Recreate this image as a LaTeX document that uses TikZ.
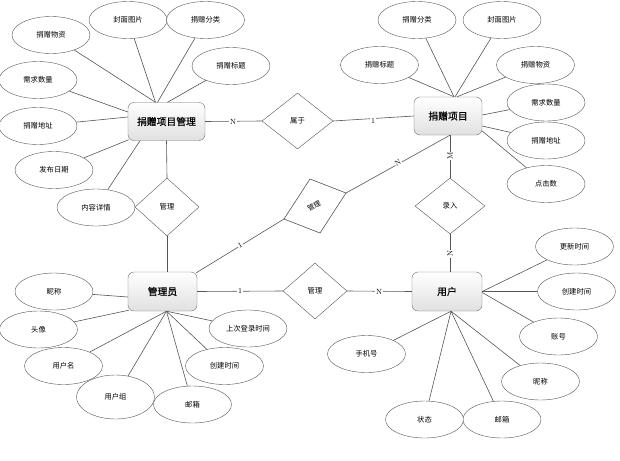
\documentclass[tikz,border=0pt]{standalone}
\usepackage{fontspec}
\newfontfamily\cjk{Noto Sans CJK SC}
\newfontfamily\cjkb[FakeBold=0.8]{Noto Sans CJK SC}
\usetikzlibrary{shapes.geometric}
\definecolor{ln}{RGB}{85,85,85}
\definecolor{bd}{RGB}{110,110,110}
\tikzset{
  attr/.style={ellipse, draw=ln, fill=white, minimum width=78pt, minimum height=37pt, inner sep=0pt, font=\cjk\fontsize{7.3}{8}\selectfont},
  ent/.style={draw=bd, rounded corners=6pt, top color=white, bottom color=black!12, minimum height=38pt, inner sep=0pt, font=\cjkb\fontsize{9.8}{11}\selectfont},
  rel/.style={diamond, draw=ln, fill=white, aspect=1, inner sep=0pt, font=\cjk\fontsize{7.3}{8}\selectfont},
  card/.style={fill=white, inner sep=0.6pt, font=\fontsize{7.5}{8}\selectfont},
  conn/.style={draw=ln, line width=0.6pt}
}
\begin{document}
\begin{tikzpicture}[x=1pt,y=-1pt]
\useasboundingbox (0,0) rectangle (620,460);
% entities
\node[ent, minimum width=77pt] (pm) at (166.5,121.5) {捐赠项目管理};
\node[ent, minimum width=68pt] (p) at (448,116) {捐赠项目};
\node[ent, minimum width=69pt, minimum height=39pt] (a) at (162.5,291.5) {管理员};
\node[ent, minimum width=70pt, minimum height=39pt] (u) at (447,291.5) {用户};
% relations
\node[rel, minimum width=64pt, minimum height=58pt] (d1) at (167,207) {管理};
\node[rel, minimum width=71pt, minimum height=56pt] (d2) at (297.5,121) {属于};
\node[rel, minimum width=70pt, minimum height=56pt] (d3) at (450,206) {录入};
\node[rel, minimum width=64pt, minimum height=56pt] (d4) at (315,291) {管理};
\coordinate (d5t) at (310,179);
\coordinate (d5r) at (346,193);
\coordinate (d5b) at (320,233);
\coordinate (d5l) at (284,219);
\draw[conn, fill=white] (d5t) -- (d5r) -- (d5b) -- (d5l) -- cycle;
\node[rotate=30, inner sep=0pt, font=\cjk\fontsize{7}{8}\selectfont] (d5) at (314,206) {管理};
% attributes of 捐赠项目管理
\node[attr] (pm1) at (51,35) {捐赠物资};
\node[attr] (pm2) at (128,20) {封面图片};
\node[attr] (pm3) at (205.5,20) {捐赠分类};
\node[attr] (pm4) at (231,66) {捐赠标题};
\node[attr] (pm5) at (38,80) {需求数量};
\node[attr] (pm6) at (38,126) {捐赠地址};
\node[attr] (pm7) at (54,170) {发布日期};
\node[attr] (pm8) at (96,207.5) {内容详情};
% attributes of 捐赠项目
\node[attr] (p1) at (417,20) {捐赠分类};
\node[attr] (p2) at (502,20) {封面图片};
\node[attr] (p3) at (379.5,65) {捐赠标题};
\node[attr] (p4) at (535.5,65) {捐赠物资};
\node[attr] (p5) at (546,102.5) {需求数量};
\node[attr] (p6) at (546,140.5) {捐赠地址};
\node[attr] (p7) at (546,184) {点击数};
% attributes of 管理员
\node[attr] (a1) at (54,291.5) {昵称};
\node[attr] (a2) at (38.5,329.5) {头像};
\node[attr] (a3) at (63.5,366) {用户名};
\node[attr, minimum height=44pt] (a4) at (115.5,397) {用户组};
\node[attr] (a5) at (192.5,404.5) {邮箱};
\node[attr] (a6) at (224.5,366) {创建时间};
\node[attr] (a7) at (248,328.5) {上次登录时间};
% attributes of 用户
\node[attr] (u1) at (574.5,246.5) {更新时间};
\node[attr] (u2) at (576.5,291.5) {创建时间};
\node[attr] (u3) at (558.5,336.5) {账号};
\node[attr] (u4) at (540.5,381.5) {昵称};
\node[attr] (u5) at (366.5,354) {手机号};
\node[attr] (u6) at (424.5,419.5) {状态};
\node[attr] (u7) at (502,419.5) {邮箱};
% connectors: 捐赠项目管理
\draw[conn] (pm1) -- ([xshift=-11pt]pm.north);
\draw[conn] (pm2) -- ([xshift=-11pt]pm.north);
\draw[conn] (pm3) -- ([xshift=-9pt]pm.north);
\draw[conn] (pm4) -- ([xshift=1pt]pm.north);
\draw[conn] (pm5) -- ([yshift=9.5pt]pm.west);
\draw[conn] (pm6) -- ([yshift=4.5pt]pm.west);
\draw[conn] (pm7) -- ([xshift=1pt,yshift=1pt]pm.south west);
\draw[conn] (pm8) -- ([xshift=-26.5pt]pm.south);
\draw[conn] (pm.south) -- (d1.north);
\draw[conn] (pm.east) -- (d2.west);
\draw[conn] (d2.east) -- (p.west);
% connectors: 捐赠项目
\draw[conn] (p1) -- ([xshift=6pt]p.north);
\draw[conn] (p2) -- ([xshift=7pt]p.north);
\draw[conn] (p3) -- ([xshift=6pt]p.north);
\draw[conn] (p4) -- ([xshift=9pt]p.north);
\draw[conn] (p5) -- ([yshift=1pt]p.east);
\draw[conn] (p6) -- ([yshift=-10pt]p.east);
\draw[conn] (p7) -- ([yshift=-15pt]p.east);
\draw[conn] ([xshift=2pt]p.south) -- (d3.north);
\draw[conn] (d5r) -- ([xshift=2pt]p.south);
% connectors: 管理员
\draw[conn] (a1) -- ([yshift=-5.5pt]a.west);
\draw[conn] (a2) -- ([xshift=1pt,yshift=1pt]a.south west);
\draw[conn] (a3) -- ([xshift=4pt]a.south);
\draw[conn] (a4) -- ([xshift=4pt]a.south);
\draw[conn] (a5) -- ([xshift=4pt]a.south);
\draw[conn] (a6) -- ([xshift=4pt]a.south);
\draw[conn] (a7) -- ([xshift=4pt]a.south);
\draw[conn] (d1.south) -- (d1.south |- a.north);
\draw[conn] (a.east) -- (d4.west);
\draw[conn] ([xshift=-1pt,yshift=-1pt]a.north east) -- (d5l);
% connectors: 用户
\draw[conn] (u1) -- (u.east);
\draw[conn] (u2) -- (u.east);
\draw[conn] (u3) -- ([yshift=-1pt]u.east);
\draw[conn] (u4) -- ([xshift=4pt]u.south);
\draw[conn] (u5) -- ([xshift=4pt]u.south);
\draw[conn] (u6) -- ([xshift=4pt]u.south);
\draw[conn] (u7) -- ([xshift=4pt]u.south);
\draw[conn] (d4.east) -- (u.west);
\draw[conn] (d3.south) -- (d3.south |- u.north);
% cardinalities
\node[card] (c1) at (233,121.5) {N};
\node[card] (c2) at (373,121.5) {1};
\node[card, rotate=30] (c3) at (240,245) {1};
\node[card, rotate=30] (c4) at (398,162.5) {N};
\node[card, rotate=90] (c5) at (450,156) {M};
\node[card, rotate=90] (c6) at (450,254) {N};
\node[card] (c7) at (240,291.5) {1};
\node[card] (c8) at (379,291.5) {N};
\end{tikzpicture}
\end{document}
